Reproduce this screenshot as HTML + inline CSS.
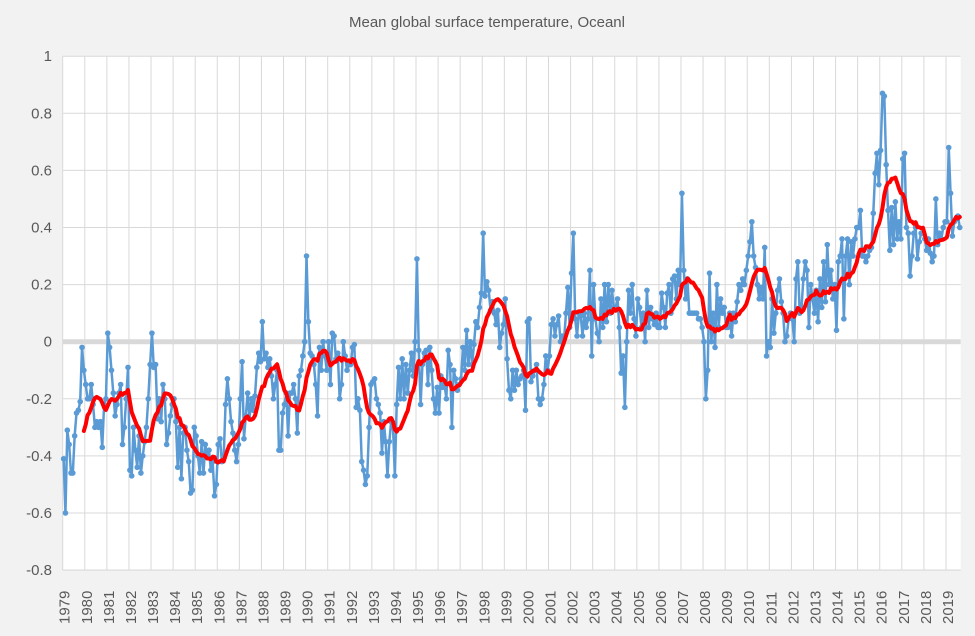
<!DOCTYPE html>
<html><head><meta charset="utf-8"><style>
html,body{margin:0;padding:0;background:#f2f2f2;}
svg{display:block;font-family:"Liberation Sans",sans-serif;}
</style></head><body>
<svg id="chart" width="975" height="636" viewBox="0 0 975 636" xmlns="http://www.w3.org/2000/svg">
<rect x="0" y="0" width="975" height="636" fill="#f2f2f2"/>
<text x="487" y="27" text-anchor="middle" font-size="15" fill="#595959">Mean global surface temperature, Oceanl</text>
<rect x="62.7" y="56" width="898" height="514" fill="#ffffff"/>
<g id="grid"></g>
<g id="yticks"></g>
<g id="xticks"></g>
<g id="series"></g>
</svg>
<script>
const years = [1979,1980,1981,1982,1983,1984,1985,1986,1987,1988,1989,1990,1991,1992,1993,1994,1995,1996,1997,1998,1999,2000,2001,2002,2003,2004,2005,2006,2007,2008,2009,2010,2011,2012,2013,2014,2015,2016,2017,2018,2019];
const yTicks = [1,0.8,0.6,0.4,0.2,0,-0.2,-0.4,-0.6,-0.8];
const yTickLabels = ["1","0.8","0.6","0.4","0.2","0","-0.2","-0.4","-0.6","-0.8"];
const monthly = [
-0.41,-0.60,-0.31,-0.36,-0.46,-0.46,-0.33,-0.25,-0.24,-0.21,-0.02,-0.10,
-0.15,-0.20,-0.20,-0.15,-0.22,-0.30,-0.28,-0.30,-0.28,-0.37,-0.22,-0.20,
0.03,-0.02,-0.10,-0.18,-0.26,-0.22,-0.18,-0.15,-0.36,-0.30,-0.20,-0.09,
-0.45,-0.47,-0.30,-0.38,-0.44,-0.33,-0.46,-0.40,-0.35,-0.30,-0.20,-0.08,
0.03,-0.09,-0.08,-0.27,-0.20,-0.28,-0.15,-0.20,-0.36,-0.32,-0.26,-0.22,
-0.20,-0.28,-0.44,-0.30,-0.48,-0.32,-0.30,-0.38,-0.42,-0.53,-0.52,-0.30,
-0.33,-0.40,-0.46,-0.35,-0.46,-0.36,-0.40,-0.38,-0.45,-0.42,-0.54,-0.50,
-0.36,-0.34,-0.42,-0.40,-0.22,-0.13,-0.20,-0.28,-0.32,-0.38,-0.42,-0.36,
-0.20,-0.07,-0.34,-0.26,-0.18,-0.27,-0.20,-0.24,-0.19,-0.09,-0.04,-0.07,
0.07,-0.06,-0.04,-0.09,-0.06,-0.12,-0.20,-0.15,-0.10,-0.38,-0.38,-0.25,
-0.22,-0.18,-0.33,-0.18,-0.18,-0.15,-0.20,-0.32,-0.12,-0.10,-0.05,0.00,
0.30,0.07,-0.04,-0.05,-0.08,-0.15,-0.26,-0.02,-0.10,0.00,-0.05,-0.10,
0.00,-0.15,0.03,0.02,-0.06,-0.04,-0.20,-0.15,0.00,-0.05,-0.10,-0.08,
-0.08,-0.02,-0.01,-0.23,-0.20,-0.24,-0.42,-0.45,-0.50,-0.47,-0.30,-0.15,
-0.14,-0.13,-0.20,-0.22,-0.25,-0.39,-0.28,-0.35,-0.47,-0.35,-0.28,-0.30,
-0.47,-0.22,-0.09,-0.20,-0.06,-0.20,-0.08,-0.18,-0.10,-0.04,-0.12,0.00,
0.29,-0.03,-0.22,-0.08,-0.04,-0.03,-0.15,-0.02,-0.10,-0.20,-0.25,-0.16,
-0.25,-0.12,-0.16,-0.15,-0.20,-0.03,-0.08,-0.30,-0.10,-0.13,-0.17,-0.15,
-0.13,-0.02,-0.10,0.04,-0.08,0.00,-0.08,-0.01,0.07,0.05,0.12,0.17,
0.38,0.16,0.21,0.18,0.11,0.14,0.10,0.06,0.11,-0.02,0.03,0.06,
0.15,-0.06,-0.17,-0.20,-0.10,-0.17,-0.10,-0.15,-0.13,-0.12,-0.10,-0.24,
0.07,0.08,-0.14,-0.12,-0.10,-0.08,-0.20,-0.22,-0.20,-0.15,-0.05,-0.10,
-0.05,0.06,0.08,0.02,0.06,0.09,0.00,0.02,0.01,0.10,0.19,0.05,
0.24,0.38,0.08,0.02,0.10,0.09,0.02,0.10,0.05,0.08,0.25,-0.05,
0.20,0.08,0.03,0.00,0.15,0.05,0.20,0.07,0.20,0.10,0.18,0.12,
0.12,0.15,0.05,-0.11,-0.05,-0.23,0.00,0.18,0.10,0.20,0.08,0.02,
0.15,0.12,0.05,0.10,0.00,0.18,0.05,0.12,0.08,0.06,0.10,0.05,
0.05,0.17,0.12,0.05,0.17,0.20,0.10,0.22,0.23,0.15,0.25,0.20,
0.52,0.25,0.15,0.22,0.10,0.10,0.10,0.10,0.10,0.08,0.08,0.05,
0.00,-0.20,-0.10,0.24,0.00,0.10,-0.02,0.20,0.05,0.15,0.10,0.12,
0.05,0.05,0.10,0.02,0.10,0.07,0.14,0.20,0.18,0.22,0.20,0.25,
0.30,0.35,0.42,0.30,0.26,0.20,0.15,0.19,0.15,0.33,-0.05,0.00,
-0.02,0.15,0.03,0.10,0.18,0.22,0.14,0.10,0.00,0.02,0.08,0.10,
0.08,0.00,0.22,0.28,0.10,0.12,0.22,0.28,0.25,0.05,0.20,0.15,
0.10,0.18,0.07,0.22,0.12,0.28,0.14,0.34,0.20,0.25,0.15,0.20,
0.04,0.28,0.30,0.36,0.08,0.30,0.36,0.20,0.35,0.30,0.36,0.40,
0.40,0.46,0.30,0.30,0.28,0.30,0.32,0.33,0.45,0.59,0.66,0.55,
0.67,0.87,0.86,0.62,0.46,0.32,0.47,0.34,0.49,0.36,0.42,0.36,
0.64,0.66,0.40,0.38,0.23,0.30,0.38,0.40,0.29,0.35,0.38,0.38,
0.36,0.32,0.36,0.31,0.28,0.30,0.50,0.34,0.38,0.36,0.40,0.42,
0.42,0.68,0.52,0.37,0.42,0.43,0.44,0.40
];
const avgWindow = 12;

const NS="http://www.w3.org/2000/svg";
const X0=62.7, X1=960.7, YTOP=56.2, Y0=341.7, PER=285.5;
const n=monthly.length;
const step=(X1-X0)/n;
function xOf(i){return X0+(i+0.5)*step;}
function yOf(v){return Y0-v*PER;}
function mk(tag,attrs,parent){const e=document.createElementNS(NS,tag);for(const k in attrs)e.setAttribute(k,attrs[k]);parent.appendChild(e);return e;}
const grid=document.getElementById('grid'), yt=document.getElementById('yticks'), xt=document.getElementById('xticks'), ser=document.getElementById('series');
yTicks.forEach((v,k)=>{
  const l=mk('line',{x1:X0,x2:X1,y1:yOf(v),y2:yOf(v),stroke:'#d9d9d9','stroke-width':v===0?5:1},grid);
  
  
  const t=mk('text',{x:52,y:yOf(v)+5,'text-anchor':'end','font-size':15,fill:'#595959'},yt);
  t.textContent=yTickLabels[k];
  
  
});
years.forEach((yr,k)=>{
  const x=X0+k*12*step;
  if(k>0){const l=mk('line',{x1:x,x2:x,y1:YTOP,y2:570,stroke:'#d9d9d9','stroke-width':1},grid);
  
  }
  const t=mk('text',{x:0,y:0,transform:`translate(${x+7},624) rotate(-90)`,'font-size':15,fill:'#595959'},xt);
  t.textContent=String(yr);
  
  
});
mk('line',{x1:X0,x2:X0,y1:YTOP,y2:570,stroke:'#d9d9d9'},grid);
mk('line',{x1:X0,x2:X1,y1:570,y2:570,stroke:'#d9d9d9'},grid);
let d=monthly.map((v,i)=>(i?'L':'M')+xOf(i).toFixed(2)+' '+yOf(v).toFixed(2)).join(' ');
const bl=mk('path',{d:d,fill:'none',stroke:'#5b9bd5','stroke-width':2.5,'stroke-linejoin':'round'},ser);


monthly.forEach((v,i)=>{
  const c=mk('circle',{cx:xOf(i),cy:yOf(v),r:2.8,fill:'#5b9bd5'},ser);
  
  
});
let pts=[];
for(let i=avgWindow-1;i<n;i++){let s=0;for(let j=i-avgWindow+1;j<=i;j++)s+=monthly[j];pts.push([xOf(i),yOf(s/avgWindow)]);}
const rd=mk('path',{d:pts.map((p,i)=>(i?'L':'M')+p[0].toFixed(2)+' '+p[1].toFixed(2)).join(' '),fill:'none',stroke:'#ff0000','stroke-width':4,'stroke-linejoin':'round','stroke-linecap':'round'},ser);


</script>
</body></html>
